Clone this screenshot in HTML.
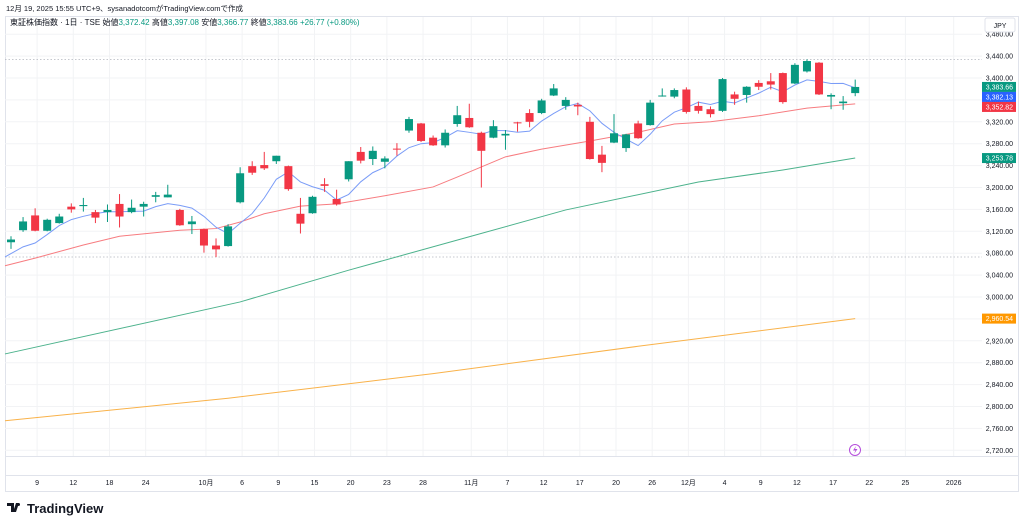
<!DOCTYPE html>
<html><head><meta charset="utf-8"><style>
body{margin:0;background:#fff;font-family:"Liberation Sans","Noto Sans CJK JP",sans-serif}
svg{display:block}
text{font-family:"Liberation Sans","Noto Sans CJK JP",sans-serif}
</style></head><body>
<svg id="chart" width="1024" height="525" viewBox="0 0 1024 525" xmlns="http://www.w3.org/2000/svg">
<text x="6" y="11" font-size="7.5" fill="#131722">12月 19, 2025 15:55 UTC+9、sysanadotcomがTradingView.comで作成</text>
<rect x="5.5" y="16.5" width="1013" height="475" fill="none" stroke="#e0e3eb"/>
<line x1="5" y1="456.5" x2="1018" y2="456.5" stroke="#e0e3eb"/>
<line x1="5" y1="475.5" x2="1018" y2="475.5" stroke="#e0e3eb"/>
<g id="grid"></g>
<g id="series"></g>
<g id="axes"></g>
<text x="10" y="25" font-size="8" fill="#131722">東証株価指数 · 1日 · TSE  始値<tspan fill="#089981">3,372.42</tspan> 高値<tspan fill="#089981">3,397.08</tspan> 安値<tspan fill="#089981">3,366.77</tspan> 終値<tspan fill="#089981">3,383.66 +26.77 (+0.80%)</tspan></text>
<rect x="985" y="18" width="30" height="14" rx="2" fill="#fff" stroke="#e0e3eb"/>
<text x="1000" y="28" font-size="7" text-anchor="middle" fill="#131722">JPY</text>
<g><circle cx="855" cy="450" r="5.5" fill="#fff" stroke="#b44ddb"/><path d="M856 446 L853 450.5 L855.5 450.5 L854 454 L857.5 449 L855 449 Z" fill="#b44ddb"/></g>
<g><path d="M7 503 h7 v9 h-3 v-6 h-4 z M16 503 h3 l-3 9 h-3 z" fill="#131722"/><circle cx="18.5" cy="504.5" r="1.5" fill="#131722"/><text x="27" y="513" font-size="13" font-weight="bold" fill="#131722">TradingView</text></g>
</svg>
<script>
const opens=[3100,3122,3149,3121,3135,3165,3166,3155,3155,3170,3155,3165,3183,3182,3159,3133,3124,3094,3093,3173,3239,3241,3248,3239,3152,3153,3206,3179,3215,3265,3252,3247,3271,3304,3317,3291,3277,3316,3327,3300,3291,3295,3319,3336,3336,3368,3349,3351,3320,3260,3282,3272,3317,3314,3367,3366,3379,3349,3343,3340,3370,3369,3391,3394,3409,3390,3412,3428,3366,3354,3372.42];
const highs=[3111,3146,3162,3143,3152,3171,3181,3159,3169,3188,3178,3174,3192,3205,3161,3148,3125,3107,3133,3237,3248,3265,3258,3240,3181,3185,3217,3196,3248,3274,3275,3257,3281,3329,3318,3295,3306,3349,3353,3302,3323,3305,3320,3343,3362,3389,3365,3355,3329,3276,3334,3298,3322,3360,3381,3381,3383,3357,3348,3400,3375,3385,3396,3409,3410,3427,3434,3429,3372,3367,3397.08];
const lows=[3088,3119,3120,3120,3134,3154,3156,3135,3137,3127,3153,3147,3173,3182,3130,3115,3081,3073,3092,3171,3223,3232,3243,3194,3116,3152,3192,3167,3211,3244,3241,3235,3258,3300,3283,3276,3273,3311,3309,3200,3290,3269,3302,3310,3334,3367,3342,3332,3251,3228,3281,3265,3289,3313,3366,3363,3335,3335,3328,3338,3351,3355,3378,3379,3353,3389,3410,3369,3343,3342,3366.77];
const closes=[3105,3138,3121,3141,3147,3160,3168,3145,3159,3147,3163,3170,3186,3187,3131,3138,3094,3087,3129,3226,3227,3235,3258,3197,3134,3183,3203,3169,3248,3249,3267,3253,3270,3325,3285,3277,3300,3332,3310,3267,3312,3298,3318,3320,3359,3381,3360,3348,3252,3245,3299,3297,3290,3355,3368,3378,3338,3340,3334,3398,3362,3384,3384,3388,3356,3424,3431,3370,3369,3357,3383.66];
const preCloses=[3046,3086,3064,3065];
const ma25Idx=[0,2,6,9,14,17,19,21,24,27,31,35,37,41,44,48,52,55,58,62,66,70];
const ma25Val=[3057,3071,3095,3111,3122,3125,3137,3152,3166,3170,3185,3201,3219,3256,3270,3285,3301,3316,3320,3331,3345,3352.82];
const ma75Idx=[0,19,28,38,46,57,64,70];
const ma75Val=[2896,2991,3049,3110,3159,3210,3232,3253.78];
const ma200Idx=[0,18,35,52,70];
const ma200Val=[2774,2815,2860,2910,2960.54];
const priceTicks=[3480,3440,3400,3360,3320,3280,3240,3200,3160,3120,3080,3040,3000,2960,2920,2880,2840,2800,2760,2720];
const dateLabels=["9","12","18","24","10月","6","9","15","20","23","28","11月","7","12","17","20","26","12月","4","9","12","17","22","25","2026"];
const dateIdx=[2,5,8,11,16,19,22,25,28,31,34,38,41,44,47,50,53,56,59,62,65,68,71,74,78];

const NS="http://www.w3.org/2000/svg";
const X=i=>11+12.06*i;
const Y=v=>78+(3400-v)*0.5475;
function mk(parent,tag,attrs){const e=document.createElementNS(NS,tag);for(const k in attrs)e.setAttribute(k,attrs[k]);document.getElementById(parent).appendChild(e);return e;}
const fmt=v=>v.toLocaleString('en-US',{minimumFractionDigits:2,maximumFractionDigits:2});

priceTicks.forEach(v=>{
  const y=Y(v);
  if(y>18&&y<456){const g=mk('grid','line',{x1:5,x2:982,y1:y,y2:y,stroke:'#f2f3f5'});
  
  }
  const t=mk('axes','text',{x:1013,y:y+2.5,'font-size':7,'text-anchor':'end',fill:'#131722'});
  t.textContent=fmt(v);
  
  
});
dateLabels.forEach((s,k)=>{
  const x=X(dateIdx[k])+2;
  const g=mk('grid','line',{x1:x,x2:x,y1:17,y2:456,stroke:'#f2f3f5'});
  
  
  const t=mk('axes','text',{x:x,y:485,'font-size':7,'text-anchor':'middle',fill:'#131722'});
  t.textContent=s;
  
  
});
const hiMax=Math.max(...highs), loMin=Math.min(...lows);
[hiMax,loMin].forEach(v=>{
  const l=mk('grid','line',{x1:5,x2:982,y1:Y(v),y2:Y(v),stroke:'#b2b5be','stroke-dasharray':'1.5,2','stroke-width':0.8});
  
  
});
function poly(idx,val,color,name){
  const p=mk('series','polyline',{points:idx.map((i,k)=>(i===0?5:X(i))+','+Y(val[k])).join(' '),fill:'none',stroke:color,'stroke-width':1});
  
  
}
poly(ma200Idx,ma200Val,'#f9b24a','ma200-line');
poly(ma75Idx,ma75Val,'#4cb28c','ma75-line');
poly(ma25Idx,ma25Val,'#f77c80','ma25-line');
const all=preCloses.concat(closes);
const ma5=closes.map((c,i)=>{let s=0;for(let k=i;k<i+5;k++)s+=all[k];return s/5;});
poly(ma5.map((_,i)=>i),ma5,'#7a9cf7','ma5-line');
closes.forEach((c,i)=>{
  const o=opens[i],up=c>=o,col=up?'#089981':'#f23645',x=X(i);
  const w=mk('series','line',{x1:x,x2:x,y1:Y(highs[i]),y2:Y(lows[i]),stroke:col,'stroke-width':1});
  
  
  const top=Y(Math.max(o,c)),h=Math.max(1,Math.abs(Y(o)-Y(c)));
  const b=mk('series','rect',{x:x-4,y:top,width:8,height:h,fill:col});
  
  
});
let lastTagBottom=-1e9;
function tag(v,color,name){
  let cy=Y(v);
  if(cy-5<lastTagBottom)cy=lastTagBottom+5;
  lastTagBottom=cy+5;
  const r=mk('axes','rect',{x:982,y:cy-5,width:34,height:10,fill:color});
  
  
  const t=mk('axes','text',{x:1013,y:cy+2.5,'font-size':7,'text-anchor':'end',fill:'#fff'});
  t.textContent=fmt(v);
  
  
}
tag(closes[closes.length-1],'#089981','last-price-tag');
tag(ma5[ma5.length-1],'#2962ff','ma5-tag');
tag(ma25Val[ma25Val.length-1],'#f23645','ma25-tag');
tag(ma75Val[ma75Val.length-1],'#089981','ma75-tag');
tag(ma200Val[ma200Val.length-1],'#ff9800','ma200-tag');
</script>
</body></html>
